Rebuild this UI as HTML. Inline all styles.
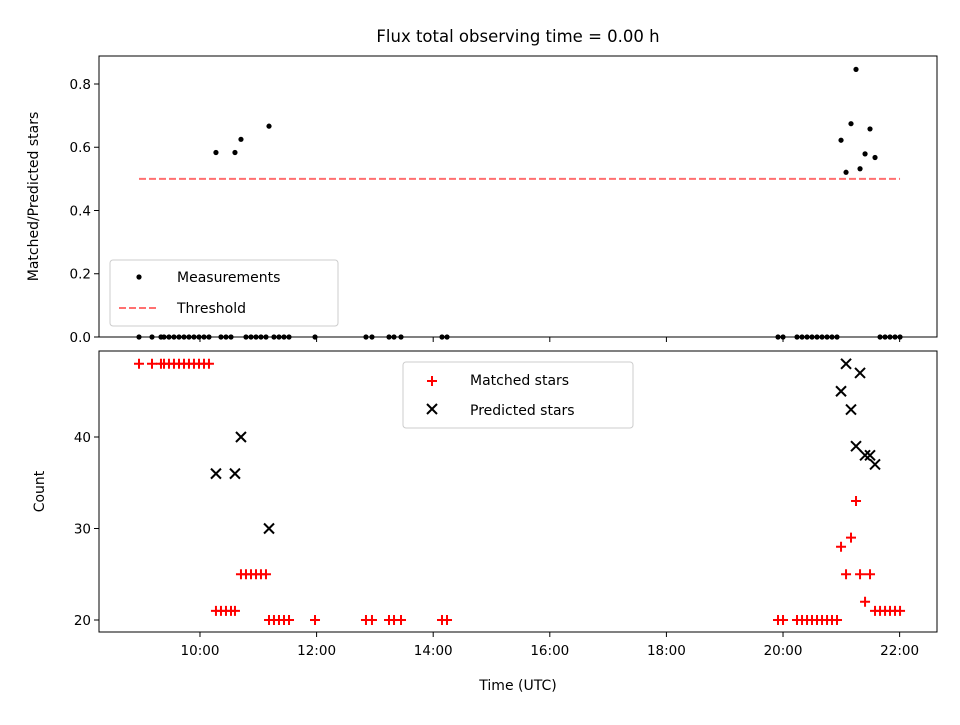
<!DOCTYPE html>
<html><head><meta charset="utf-8"><style>
body{margin:0;background:#fff}
svg text{font-family:"DejaVu Sans","Liberation Sans",sans-serif;fill:#000}
</style></head><body>
<svg id="c" width="960" height="720" xmlns="http://www.w3.org/2000/svg">
<rect width="960" height="720" fill="#fff"/>
<text x="518" y="42" font-size="16.5" text-anchor="middle">Flux total observing time = 0.00 h</text>
<g id="topPanel"></g>
<g id="botPanel"></g>
</svg>
<script>
const times=[8.954,9.177,9.331,9.383,9.468,9.554,9.640,9.726,9.811,9.897,9.983,10.069,10.154,10.274,10.360,10.446,10.532,10.600,10.703,10.789,10.875,10.961,11.046,11.132,11.184,11.269,11.355,11.441,11.527,11.973,12.847,12.950,13.242,13.328,13.448,14.151,14.237,19.914,20.000,20.240,20.326,20.412,20.497,20.583,20.669,20.755,20.840,20.926,20.995,21.081,21.166,21.252,21.321,21.407,21.492,21.578,21.664,21.750,21.835,21.921,22.007];
const matched=[48,48,48,48,48,48,48,48,48,48,48,48,48,21,21,21,21,21,25,25,25,25,25,25,20,20,20,20,20,20,20,20,20,20,20,20,20,20,20,20,20,20,20,20,20,20,20,20,28,25,29,33,25,22,25,21,21,21,21,21,21];
const predicted=[null,null,null,null,null,null,null,null,null,null,null,null,null,36,null,null,null,36,40,null,null,null,null,null,30,null,null,null,null,null,null,null,null,null,null,null,null,null,null,null,null,null,null,null,null,null,null,null,45,48,43,39,47,38,38,37,null,null,null,null,null];
const threshold=0.5;
const xTickHours=[10,12,14,16,18,20,22];
const xTickLabels=["10:00","12:00","14:00","16:00","18:00","20:00","22:00"];
const topTicks=[0,0.2,0.4,0.6,0.8];
const botTicks=[20,30,40];

const NS="http://www.w3.org/2000/svg";
const L=99,R=937,xmin=8.268,xmax=22.641;
const X=h=>L+(h-xmin)/(xmax-xmin)*(R-L);
const T0=56,T1=337,tmin=0,tmax=0.8885;
const YT=v=>T1-(v-tmin)/(tmax-tmin)*(T1-T0);
const B0=351,B1=632,bmin=18.69,bmax=49.4;
const YB=v=>B1-(v-bmin)/(bmax-bmin)*(B1-B0);
function mk(p,tag,a){const e=document.createElementNS(NS,tag);for(const k in a)e.setAttribute(k,a[k]);p.appendChild(e);return e;}
const topG=document.getElementById('topPanel'),botG=document.getElementById('botPanel');

times.forEach((t,i)=>{
  const r=predicted[i]?matched[i]/predicted[i]:0;
  const c=mk(topG,'circle',{cx:X(t),cy:YT(r),r:2.6,fill:'#000'});
  
  
});
const th=mk(topG,'line',{x1:X(times[0]),x2:X(times[times.length-1]),y1:YT(threshold),y2:YT(threshold),stroke:'#ff7070','stroke-width':2,'stroke-dasharray':'7,3'});


mk(topG,'rect',{x:L,y:T0,width:R-L,height:T1-T0,fill:'none',stroke:'#000','stroke-width':1});
topTicks.forEach(v=>{
  mk(topG,'line',{x1:L-5,x2:L,y1:YT(v),y2:YT(v),stroke:'#000'});
  const t=mk(topG,'text',{x:L-8,y:YT(v)+5,'font-size':13.5,'text-anchor':'end'});t.textContent=v.toFixed(1);
  
  
});
xTickHours.forEach(h=>{mk(topG,'line',{x1:X(h),x2:X(h),y1:T1,y2:T1+5,stroke:'#000'});});
const yl1=mk(topG,'text',{x:0,y:0,'font-size':14,'text-anchor':'middle',transform:`translate(38,${(T0+T1)/2}) rotate(-90)`});
yl1.textContent='Matched/Predicted stars';


const lg=mk(topG,'g',{});


mk(lg,'rect',{x:110,y:260,width:228,height:66,rx:3,fill:'#fff','fill-opacity':0.8,stroke:'#ccc'});
mk(lg,'circle',{cx:139,cy:277,r:2.6,fill:'#000'});
let t1=mk(lg,'text',{x:177,y:282,'font-size':14});t1.textContent='Measurements';
mk(lg,'line',{x1:119,x2:159,y1:308,y2:308,stroke:'#ff7070','stroke-width':2,'stroke-dasharray':'7,3'});
let t2=mk(lg,'text',{x:177,y:313,'font-size':14});t2.textContent='Threshold';

times.forEach((t,i)=>{
  const x=X(t),y=YB(matched[i]);
  const g=mk(botG,'path',{d:`M${x-5},${y}H${x+5}M${x},${y-5}V${y+5}`,stroke:'#f00','stroke-width':2});
  
  
  if(predicted[i]){
    const yy=YB(predicted[i]);
    const p=mk(botG,'path',{d:`M${x-5},${yy-5}L${x+5},${yy+5}M${x-5},${yy+5}L${x+5},${yy-5}`,stroke:'#000','stroke-width':2});
    
    
  }
});
mk(botG,'rect',{x:L,y:B0,width:R-L,height:B1-B0,fill:'none',stroke:'#000','stroke-width':1});
botTicks.forEach(v=>{
  mk(botG,'line',{x1:L-5,x2:L,y1:YB(v),y2:YB(v),stroke:'#000'});
  const t=mk(botG,'text',{x:L-8,y:YB(v)+5,'font-size':13.5,'text-anchor':'end'});t.textContent=v;
  
  
});
xTickHours.forEach((h,i)=>{
  mk(botG,'line',{x1:X(h),x2:X(h),y1:B1,y2:B1+5,stroke:'#000'});
  const t=mk(botG,'text',{x:X(h),y:B1+23,'font-size':13.5,'text-anchor':'middle'});t.textContent=xTickLabels[i];
  
  
});
const xl=mk(botG,'text',{x:518,y:690,'font-size':14,'text-anchor':'middle'});xl.textContent='Time (UTC)';


const yl2=mk(botG,'text',{x:0,y:0,'font-size':14,'text-anchor':'middle',transform:`translate(44,${(B0+B1)/2}) rotate(-90)`});
yl2.textContent='Count';


const lg2=mk(botG,'g',{});


mk(lg2,'rect',{x:403,y:362,width:230,height:66,rx:3,fill:'#fff','fill-opacity':0.8,stroke:'#ccc'});
mk(lg2,'path',{d:'M427,381H437M432,376V386',stroke:'#f00','stroke-width':2});
let t3=mk(lg2,'text',{x:470,y:385,'font-size':14});t3.textContent='Matched stars';
mk(lg2,'path',{d:'M427,404L437,414M427,414L437,404',stroke:'#000','stroke-width':2});
let t4=mk(lg2,'text',{x:470,y:415,'font-size':14});t4.textContent='Predicted stars';
</script>
</body></html>
